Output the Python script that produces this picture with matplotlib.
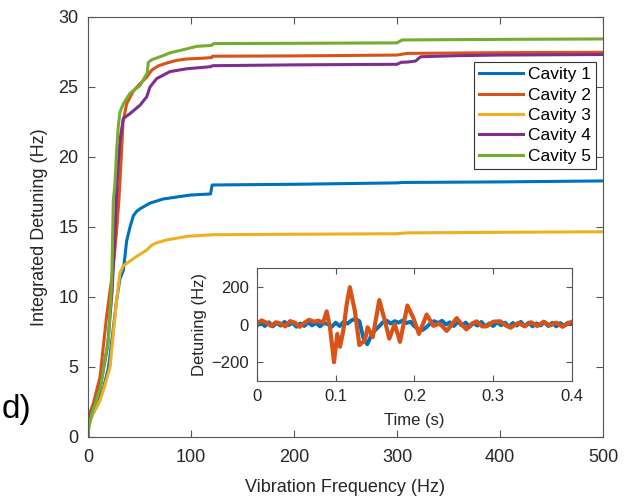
import numpy as np
import matplotlib
matplotlib.use('Agg')
import matplotlib.pyplot as plt

plt.rcParams['font.family'] = ['Liberation Sans', 'DejaVu Sans']

colors = ['#0072BD', '#D95319', '#EDB120', '#7E2F8E', '#77AC30']
labels = ['Cavity 1', 'Cavity 2', 'Cavity 3', 'Cavity 4', 'Cavity 5']

# integrated detuning vs vibration frequency, one curve per cavity
f1 = [0, 1, 5, 10, 15, 20, 24, 27.8, 31, 34.3, 36, 37.5, 40.8, 44, 47, 50.5, 60, 73, 99, 119, 120.5, 150, 200, 250, 300, 305, 400, 500]
y1 = [0, 1.0, 1.7, 2.4, 3.5, 5.0, 7.4, 9.8, 11.3, 11.9, 13.0, 14.0, 15.0, 15.8, 16.1, 16.3, 16.7, 17.0, 17.28, 17.36, 18.0, 18.02, 18.05, 18.1, 18.15, 18.18, 18.22, 18.29]

f2 = [0, 0.5, 5.2, 11.7, 18, 24.6, 27.5, 30, 32.7, 34, 37.5, 44, 50, 57, 61.8, 68, 76, 86, 95.8, 110, 120, 121, 200, 300, 310, 400, 500]
y2 = [0, 1.45, 2.4, 4.3, 8.6, 12.2, 14.5, 16.9, 20.5, 22.5, 23.8, 24.7, 25.2, 25.7, 26.2, 26.5, 26.7, 26.9, 27.0, 27.05, 27.1, 27.2, 27.22, 27.28, 27.4, 27.45, 27.48]

f3 = [0, 1, 5, 11.7, 16, 21.4, 24.6, 27.8, 31, 34, 37.5, 47.2, 57, 61.8, 66, 76, 96, 121.6, 200, 250, 300, 310, 400, 500]
y3 = [0, 1.0, 1.7, 2.6, 3.6, 5.0, 7.4, 9.8, 11.7, 12.2, 12.4, 12.9, 13.35, 13.7, 13.85, 14.07, 14.33, 14.45, 14.48, 14.5, 14.52, 14.58, 14.62, 14.66]

f4 = [0, 0.5, 4, 11, 19, 23.5, 26, 28.5, 31, 34.3, 40.8, 50.5, 57, 60.2, 66.7, 79.6, 95.8, 119, 121, 200, 300, 304, 310, 318, 323, 360, 400, 500]
y4 = [0, 1.2, 1.9, 3.2, 6.5, 10.5, 14.5, 18.5, 21.2, 22.75, 23.1, 23.7, 24.3, 25.0, 25.6, 26.1, 26.3, 26.45, 26.52, 26.58, 26.62, 26.76, 26.78, 26.85, 27.16, 27.24, 27.28, 27.32]

f5 = [0, 0.3, 3.6, 11.7, 19.7, 23, 24.6, 26.2, 27.8, 29.4, 31, 34.3, 40.8, 50.5, 57.5, 58.5, 62, 71.5, 80, 89, 105.5, 120, 122, 200, 300, 305, 400, 500]
y5 = [0, 0.5, 1.7, 3.4, 6.9, 11.0, 16.9, 18.1, 20.5, 22.2, 23.2, 23.8, 24.55, 25.1, 26.0, 26.75, 26.95, 27.2, 27.45, 27.6, 27.9, 27.97, 28.1, 28.12, 28.15, 28.36, 28.4, 28.43]

# time-domain detuning for the inset
t_c1 = np.arange(81) * 0.005
d_c1 = [-5, 10, -8, 12, -10, 8, -6, 14, -4, 10, -12, 6, -8, 12, -5, 9, -10, 8, 2, -12,
        10, -8, 14, 5, 22, 30, 18, -70, -105, -60, -30, -10, 12, 20, 5, 18, 10, 22, 8, 15,
        -10, -25, -30, -15, 5, 18, 8, 20, 0, 12, -8, 15, -5, 10, -12, 8, -6, 14, -10, 6,
        -8, 12, -4, 10, -12, 8, -6, 14, -8, 10, -10, 6, -5, 12, -8, 9, -10, 8, -6, 10, 5]

t_c2 = [0, 0.006, 0.012, 0.018, 0.024, 0.03, 0.036, 0.042, 0.048, 0.054, 0.06, 0.066, 0.072, 0.078,
        0.084, 0.0885, 0.0927, 0.0978, 0.102, 0.1054, 0.1096, 0.114, 0.118, 0.1244, 0.13, 0.137,
        0.1405, 0.147, 0.1553, 0.1625, 0.168, 0.175, 0.1816, 0.191, 0.1985, 0.2057, 0.2155, 0.224,
        0.232, 0.241, 0.2536, 0.26, 0.266, 0.273, 0.279, 0.286, 0.292, 0.3, 0.309, 0.316, 0.322,
        0.332, 0.34, 0.348, 0.356, 0.364, 0.372, 0.38, 0.388, 0.396, 0.4]
d_c2 = [5, 22, 10, -8, 12, 5, -10, 18, 10, -12, 8, 25, 15, 20, 10, 70, -15, -200, -50, -118,
        -33, 110, 198, 70, -109, -84, -15, -67, 130, 19, -75, 2, -92, 101, 36, -50, 53, -7,
        5, -34, 34, 0, -26, 5, 17, -10, -9, 15, 17, -5, -17, 9, -10, 12, -8, 15, -5, 10, -12, 8, 15]

axis_col = '#555555'
text_col = '#262626'

fig = plt.figure(figsize=(6.41, 4.98), dpi=100)
ax = fig.add_axes([0.1373, 0.1225, 0.8034, 0.8434])

for f, y, c, lab in zip([f1, f2, f3, f4, f5], [y1, y2, y3, y4, y5], colors, labels):
    ax.plot(f, y, color=c, lw=2.2, label=lab, solid_joinstyle='round')

ax.set_xlim(0, 500)
ax.set_ylim(0, 30)
ax.set_xticks([0, 100, 200, 300, 400, 500])
ax.set_yticks([0, 5, 10, 15, 20, 25, 30])
ax.tick_params(direction='in', top=True, right=True, length=5, width=0.8,
               colors=axis_col, labelcolor=text_col, labelsize=13)
ax.tick_params(axis='x', pad=9)
ax.tick_params(axis='y', pad=7)
for s in ax.spines.values():
    s.set_color(axis_col)
    s.set_linewidth(0.8)
ax.set_xlabel('Vibration Frequency (Hz)', fontsize=13, color=text_col, labelpad=9)
ax.set_ylabel('Integrated Detuning (Hz)', fontsize=13, color=text_col, labelpad=7)

leg = ax.legend(loc='upper right', bbox_to_anchor=(0.9864, 0.893), borderaxespad=0,
                fontsize=12.5, fancybox=False, framealpha=1, edgecolor='#333333',
                handlelength=2.5, handletextpad=0.3, labelspacing=0.3, borderpad=0.3)
leg.get_frame().set_linewidth(0.8)

# inset: detuning vs time
ins = fig.add_axes([0.4009, 0.2349, 0.4914, 0.2269])
ins.plot(t_c1, d_c1, color=colors[0], lw=2.8)
ins.plot(t_c2, d_c2, color=colors[1], lw=3.0)
ins.set_xlim(0, 0.4)
ins.set_ylim(-300, 300)
ins.set_xticks([0, 0.1, 0.2, 0.3, 0.4])
ins.set_xticklabels(['0', '0.1', '0.2', '0.3', '0.4'])
ins.set_yticks([-200, 0, 200])
ins.tick_params(direction='in', top=True, right=True, length=4, width=0.8,
                colors=axis_col, labelcolor=text_col, labelsize=12, pad=6)
for s in ins.spines.values():
    s.set_color(axis_col)
    s.set_linewidth(0.8)
ins.set_xlabel('Time (s)', fontsize=12, color=text_col, labelpad=6)
ins.set_ylabel('Detuning (Hz)', fontsize=12, color=text_col, labelpad=3)

fig.text(0.002, 0.177, 'd)', fontsize=24, color='black', va='center', ha='left')

fig.savefig('out.png', dpi=100)
